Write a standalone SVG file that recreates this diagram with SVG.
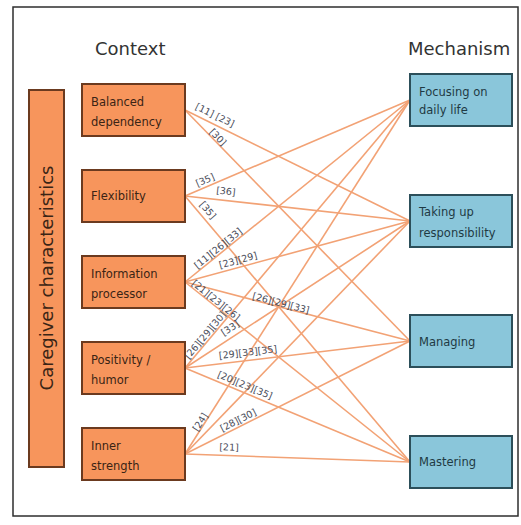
<svg xmlns="http://www.w3.org/2000/svg" width="521" height="525" viewBox="0 0 521 525">
  <style>
    .frame { fill: #ffffff; stroke: #2e2e2e; stroke-width: 1.5; }
    .ctx { fill: #f7955c; stroke: #6b3a1f; stroke-width: 2; }
    .mech { fill: #8ac6da; stroke: #2c4f5a; stroke-width: 2; }
    .head { font-family: "DejaVu Sans", Verdana, sans-serif; font-size: 18px; fill: #333333; }
    .ntext { font-family: "DejaVu Sans", Verdana, sans-serif; font-size: 11.5px; fill: #3a2415; }
    .mtext { font-family: "DejaVu Sans", Verdana, sans-serif; font-size: 11.5px; fill: #1f3a44; }
    .bar { font-family: "DejaVu Sans", Verdana, sans-serif; font-size: 18px; fill: #3a2415; }
    .edge { stroke: #f2a275; stroke-width: 1.6; fill: none; }
    .lbl { font-family: "DejaVu Sans", Verdana, sans-serif; font-size: 9.5px; fill: #4a4d5a; text-anchor: middle; dominant-baseline: central; }
  </style>

  <rect class="frame" x="13" y="7" width="505" height="509"/>

  <text class="head" x="95" y="55">Context</text>
  <text class="head" x="408" y="55">Mechanism</text>

  <!-- connectors: context (right edge x=185) to mechanism (left edge x=410) -->
  <g id="connectors">
    <line class="edge" x1="185" y1="110" x2="410" y2="221"/>
    <line class="edge" x1="185" y1="110" x2="410" y2="341"/>
    <line class="edge" x1="185" y1="196" x2="410" y2="100"/>
    <line class="edge" x1="185" y1="196" x2="410" y2="221"/>
    <line class="edge" x1="185" y1="196" x2="410" y2="462"/>
    <line class="edge" x1="185" y1="282" x2="410" y2="100"/>
    <line class="edge" x1="185" y1="282" x2="410" y2="221"/>
    <line class="edge" x1="185" y1="282" x2="410" y2="341"/>
    <line class="edge" x1="185" y1="282" x2="410" y2="462"/>
    <line class="edge" x1="185" y1="368" x2="410" y2="100"/>
    <line class="edge" x1="185" y1="368" x2="410" y2="221"/>
    <line class="edge" x1="185" y1="368" x2="410" y2="341"/>
    <line class="edge" x1="185" y1="368" x2="410" y2="462"/>
    <line class="edge" x1="185" y1="454" x2="410" y2="100"/>
    <line class="edge" x1="185" y1="454" x2="410" y2="221"/>
    <line class="edge" x1="185" y1="454" x2="410" y2="341"/>
    <line class="edge" x1="185" y1="454" x2="410" y2="462"/>

    <text class="lbl" transform="translate(215,115) rotate(26.3)">[11] [23]</text>
    <text class="lbl" transform="translate(218,137) rotate(45.7)">[30]</text>
    <text class="lbl" transform="translate(205,180) rotate(-23.1)">[35]</text>
    <text class="lbl" transform="translate(226,191) rotate(6.3)">[36]</text>
    <text class="lbl" transform="translate(208,210) rotate(49.8)">[35]</text>
    <text class="lbl" transform="translate(218,248) rotate(-39)">[11][26][33]</text>
    <text class="lbl" transform="translate(238,260) rotate(-15.2)">[23][29]</text>
    <text class="lbl" transform="translate(281,303) rotate(14.7)">[26][29][33]</text>
    <text class="lbl" transform="translate(216,300) rotate(38.7)">[21][23][26]</text>
    <text class="lbl" transform="translate(205,335) rotate(-50)">[26][29][30]</text>
    <text class="lbl" transform="translate(230,328) rotate(-33.2)">[33]</text>
    <text class="lbl" transform="translate(248,352) rotate(-6.8)">[29][33][35]</text>
    <text class="lbl" transform="translate(245,385) rotate(22.7)">[20][23][35]</text>
    <text class="lbl" transform="translate(200,422) rotate(-57.6)">[24]</text>
    <text class="lbl" transform="translate(238,420) rotate(-26.7)">[28][30]</text>
    <text class="lbl" transform="translate(229,447) rotate(2)">[21]</text>
  </g>

  <g id="caregiver">
    <rect class="ctx" x="29" y="90" width="35" height="377"/>
    <text class="bar" transform="translate(53,278) rotate(-90)" text-anchor="middle">Caregiver characteristics</text>
  </g>

  <g id="balanced-dependency">
    <rect class="ctx" x="82" y="84" width="103" height="52"/>
    <text class="ntext" x="91" y="106">Balanced</text>
    <text class="ntext" x="91" y="126">dependency</text>
  </g>
  <g id="flexibility">
    <rect class="ctx" x="82" y="170" width="103" height="52"/>
    <text class="ntext" x="91" y="200">Flexibility</text>
  </g>
  <g id="information-processor">
    <rect class="ctx" x="82" y="256" width="103" height="52"/>
    <text class="ntext" x="91" y="278">Information</text>
    <text class="ntext" x="91" y="298">processor</text>
  </g>
  <g id="positivity-humor">
    <rect class="ctx" x="82" y="342" width="103" height="52"/>
    <text class="ntext" x="91" y="364">Positivity /</text>
    <text class="ntext" x="91" y="384">humor</text>
  </g>
  <g id="inner-strength">
    <rect class="ctx" x="82" y="428" width="103" height="52"/>
    <text class="ntext" x="91" y="450">Inner</text>
    <text class="ntext" x="91" y="470">strength</text>
  </g>

  <g id="focusing-on-daily-life">
    <rect class="mech" x="410" y="74" width="102" height="52"/>
    <text class="mtext" x="419" y="96">Focusing on</text>
    <text class="mtext" x="419" y="114">daily life</text>
  </g>
  <g id="taking-up-responsibility">
    <rect class="mech" x="410" y="195" width="102" height="52"/>
    <text class="mtext" x="419" y="216">Taking up</text>
    <text class="mtext" x="419" y="237">responsibility</text>
  </g>
  <g id="managing">
    <rect class="mech" x="410" y="315" width="102" height="52"/>
    <text class="mtext" x="419" y="346">Managing</text>
  </g>
  <g id="mastering">
    <rect class="mech" x="410" y="436" width="102" height="52"/>
    <text class="mtext" x="419" y="466">Mastering</text>
  </g>
</svg>
